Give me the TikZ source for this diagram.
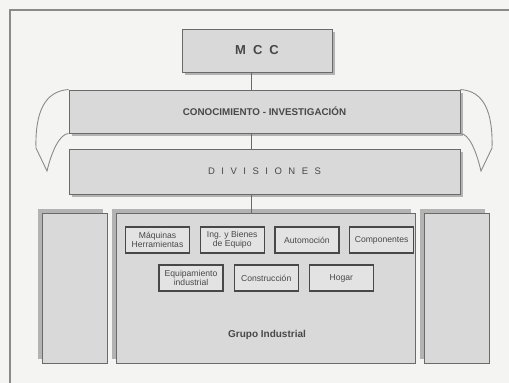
\documentclass[tikz,border=0pt]{standalone}
\usepackage{fontspec}
\setmainfont{Liberation Sans}
\usetikzlibrary{positioning,shadows}
\definecolor{paper}{HTML}{F4F4F2}
\definecolor{hatch}{HTML}{D9D9D9}
\definecolor{shade}{HTML}{B3B3B3}
\definecolor{unitfill}{HTML}{E3E3E3}
\definecolor{rim}{HTML}{8A8A8A}
\definecolor{ink}{HTML}{484848}
\definecolor{edgegray}{HTML}{6A6A6A}

\begin{document}
\begin{tikzpicture}[
  x=1pt,y=-1pt,
  level/.style={draw=edgegray,fill=hatch,line width=0.9pt,inner sep=0pt,text=ink,
    drop shadow={shadow xshift=3pt,shadow yshift=-3pt,fill=shade,opacity=1}},
  group/.style={draw=edgegray,fill=hatch,line width=0.9pt,inner sep=0pt,minimum width=65pt,minimum height=150pt,
    drop shadow={shadow xshift=-4.5pt,shadow yshift=4pt,fill=shade,opacity=1}},
  unit/.style={draw=ink,fill=unitfill,line width=1.2pt,minimum width=64pt,minimum height=26pt,inner sep=1pt,
    align=center,font=\fontsize{8.6}{9.5}\selectfont,text=ink},
  link/.style={draw=edgegray,line width=0.9pt},
  bracket/.style={draw=rim,line width=0.9pt}
]
\useasboundingbox[fill=paper] (0,0) rectangle (509,383);
\draw[rim,line width=1.2pt] (10,383) -- (10,10) -- (509,10);

% upper levels
\node[level,minimum width=150pt,minimum height=43pt,font=\fontsize{13}{13}\selectfont\bfseries] (mcc) at (257,50.5) {\spaceskip=7pt M C C};
\node[level,minimum width=391pt,minimum height=43pt,font=\fontsize{9.8}{10}\selectfont\bfseries] (know) at (264.5,111.5) {CONOCIMIENTO - INVESTIGACIÓN};
\node[level,minimum width=391pt,minimum height=45pt,font=\fontsize{9.5}{10}\selectfont] (div) at (264.5,171.5) {\spaceskip=6.5pt D I V I S I O N E S};

% groups
\node[group] (left) at (74.5,288) {};
\node[group,minimum width=299pt] (ind) at (265.5,288) {};
\node[group] (right) at (456.5,288) {};

\coordinate (spine) at (251,0);
\draw[link] (mcc.south -| spine) -- (know.north -| spine);
\draw[link] (know.south -| spine) -- (div.north -| spine);
\draw[link] (div.south -| spine) -- (ind.north -| spine);

% divisions of the industrial group
\node[unit] (mach) at (157.5,240) {Máquinas\\Herramientas};
\node[unit,right=9.5pt of mach] (equip) {Ing. y Bienes\\de Equipo};
\node[unit,right=9.5pt of equip] (auto) {Automoción};
\node[unit,right=9.5pt of auto] (comp) {Componentes};
\node[unit] (indeq) at (191,278) {Equipamiento\\industrial};
\node[unit,right=10pt of indeq] (build) {Construcción};
\node[unit,right=10pt of build] (home) {Hogar};
\node[font=\fontsize{10}{10}\selectfont\bfseries,text=ink] (grp) at (267,335) {Grupo Industrial};

% side brackets
\draw[bracket] (know.north west) .. controls (45,91) and (35,112) .. (36,148) -- (47,171)
  .. controls (52,150) and (60,134) .. (know.south west);
\draw[bracket] (know.north east) .. controls (484,91) and (493,112) .. (492,148) -- (481,171)
  .. controls (476,150) and (469,134) .. (know.south east);
\end{tikzpicture}
\end{document}
